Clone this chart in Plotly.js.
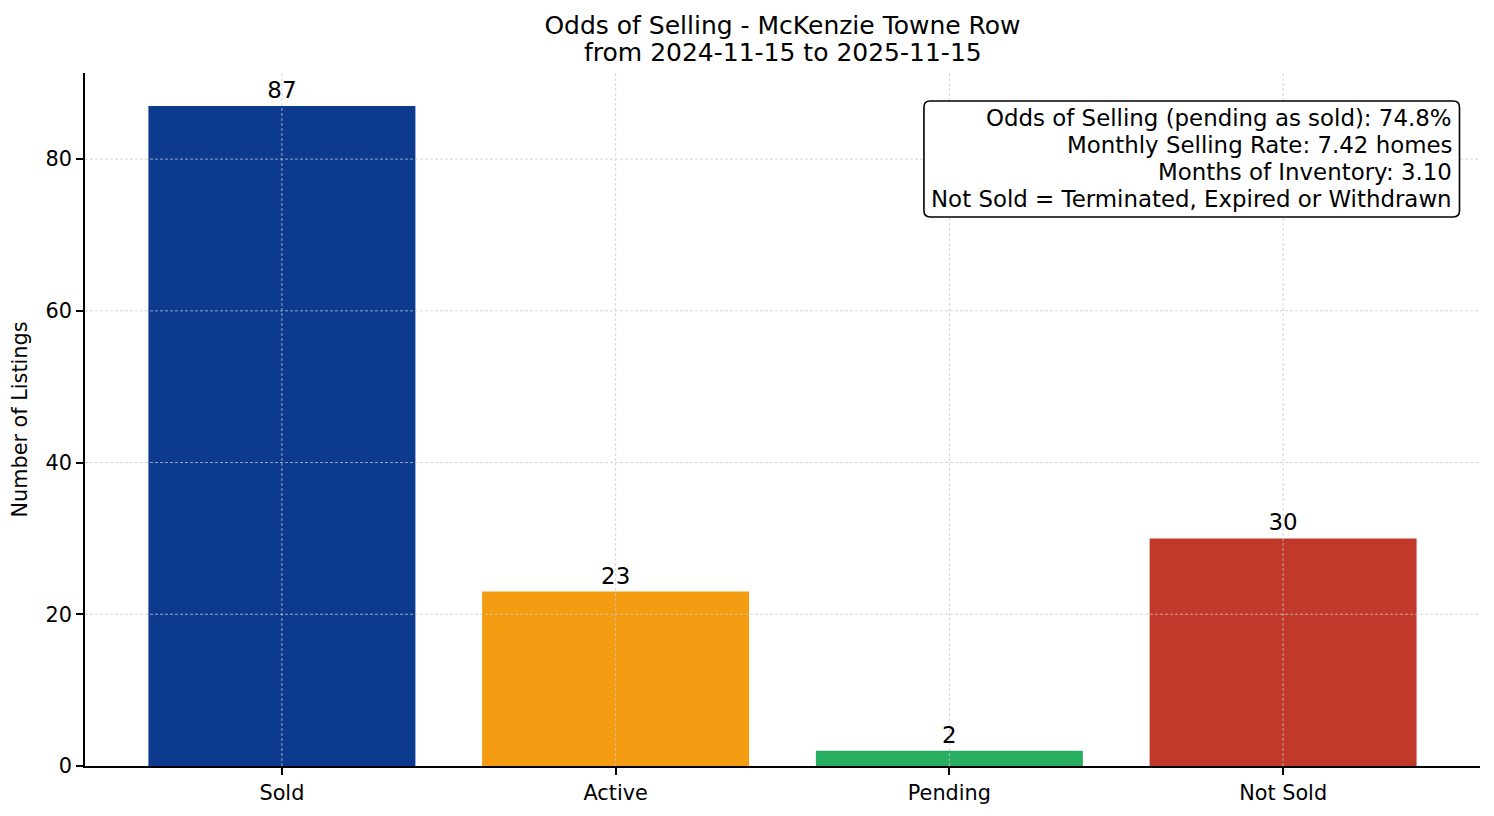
<!DOCTYPE html>
<html>
<head>
<meta charset="utf-8">
<script src="https://cdn.plot.ly/plotly-3.0.1.min.js"></script>
<style>html,body{margin:0;padding:0;background:#fff;}#chart{width:1494px;height:816px;}</style>
</head>
<body>
<div id="chart"></div>
<script>
const categories = ["Sold", "Active", "Pending", "Not Sold"];
const counts = [87, 23, 2, 30];
const barColors = ["#0b3a8f", "#f39c12", "#27ae60", "#c0392b"];
const yTicks = [0, 20, 40, 60, 80];
const titleLines = ["Odds of Selling - McKenzie Towne Row", "from 2024-11-15 to 2025-11-15"];
const infoLines = [
  "Odds of Selling (pending as sold): 74.8%",
  "Monthly Selling Rate: 7.42 homes",
  "Months of Inventory: 3.10",
  "Not Sold = Terminated, Expired or Withdrawn"
];

const FONT = "DejaVu Sans, sans-serif";
const PLOT_TOP = 73, PLOT_BOTTOM = 766, PLOT_H = PLOT_BOTTOM - PLOT_TOP;
const pyPaper = px => (PLOT_BOTTOM - px) / PLOT_H;   // pixel row -> paper y
const gridStyle = {color: "rgba(200,200,200,0.75)", width: 1, dash: "3px,2px"};

const shapes = [];
categories.forEach(c => shapes.push({
  type: "line", layer: "above", xref: "x", yref: "paper",
  x0: c, x1: c, y0: 0, y1: 1, line: gridStyle
}));
yTicks.filter(v => v > 0).forEach(v => shapes.push({
  type: "line", layer: "above", xref: "paper", yref: "y",
  x0: 0, x1: 1, y0: v, y1: v, line: gridStyle
}));

// rounded info box (paper coords)
function roundedRect(x0, y0, x1, y1, rx, ry) {
  return `M${x0+rx},${y1} L${x1-rx},${y1} Q${x1},${y1} ${x1},${y1-ry} L${x1},${y0+ry} Q${x1},${y0} ${x1-rx},${y0} ` +
         `L${x0+rx},${y0} Q${x0},${y0} ${x0},${y0+ry} L${x0},${y1-ry} Q${x0},${y1} ${x0+rx},${y1} Z`;
}
shapes.push({
  type: "path", layer: "above", xref: "paper", yref: "paper",
  path: roundedRect(0.6014, pyPaper(217), 0.9853, pyPaper(101), 0.0045, 0.009),
  fillcolor: "#ffffff", line: {color: "#000000", width: 1.6}
});

const annotations = infoLines.map((t, i) => ({
  xref: "paper", yref: "paper",
  x: 0.9817, y: pyPaper(118 + 27 * i),
  xanchor: "right", yanchor: "middle",
  showarrow: false, text: t,
  font: {family: FONT, size: 22.9, color: "#000"}
}));
annotations.push({
  xref: "paper", yref: "paper",
  x: 0.5, y: pyPaper(53), xanchor: "center", yanchor: "middle",
  showarrow: false, text: titleLines[1],
  font: {family: FONT, size: 25, color: "#000"}
});

const trace = {
  type: "bar",
  x: categories,
  y: counts,
  marker: {color: barColors, line: {width: 0}},
  width: 0.8,
  text: counts.map(String),
  textposition: "outside",
  textfont: {family: FONT, size: 22.9, color: "#000"},
  cliponaxis: false,
  hoverinfo: "x+y"
};

const layout = {
  width: 1494, height: 816,
  margin: {l: 85, r: 14, t: 73, b: 50},
  paper_bgcolor: "#fff", plot_bgcolor: "#fff",
  font: {family: FONT, color: "#000", size: 20.8},
  showlegend: false,
  title: {
    text: titleLines[0],
    font: {family: FONT, size: 25, color: "#000"},
    x: 0.5, xanchor: "center", xref: "paper",
    y: 1 - 25 / 816, yanchor: "middle", yref: "container"
  },
  xaxis: {
    type: "category",
    range: [-0.59, 3.59],
    showgrid: false, zeroline: false,
    showline: true, linecolor: "#000", linewidth: 1.6,
    ticks: "outside", ticklen: 7, tickwidth: 1.6, tickcolor: "#000",
    tickfont: {family: FONT, size: 20.8, color: "#000"},
    fixedrange: true
  },
  yaxis: {
    range: [0, 91.35],
    tickvals: yTicks,
    showgrid: false, zeroline: false,
    showline: true, linecolor: "#000", linewidth: 1.6,
    ticks: "outside", ticklen: 7, tickwidth: 1.6, tickcolor: "#000",
    tickfont: {family: FONT, size: 20.8, color: "#000"},
    title: {text: "Number of Listings", font: {family: FONT, size: 20.8, color: "#000"}, standoff: 12},
    fixedrange: true
  },
  shapes: shapes,
  annotations: annotations
};

Plotly.newPlot("chart", [trace], layout, {displayModeBar: false});
</script>
</body>
</html>
